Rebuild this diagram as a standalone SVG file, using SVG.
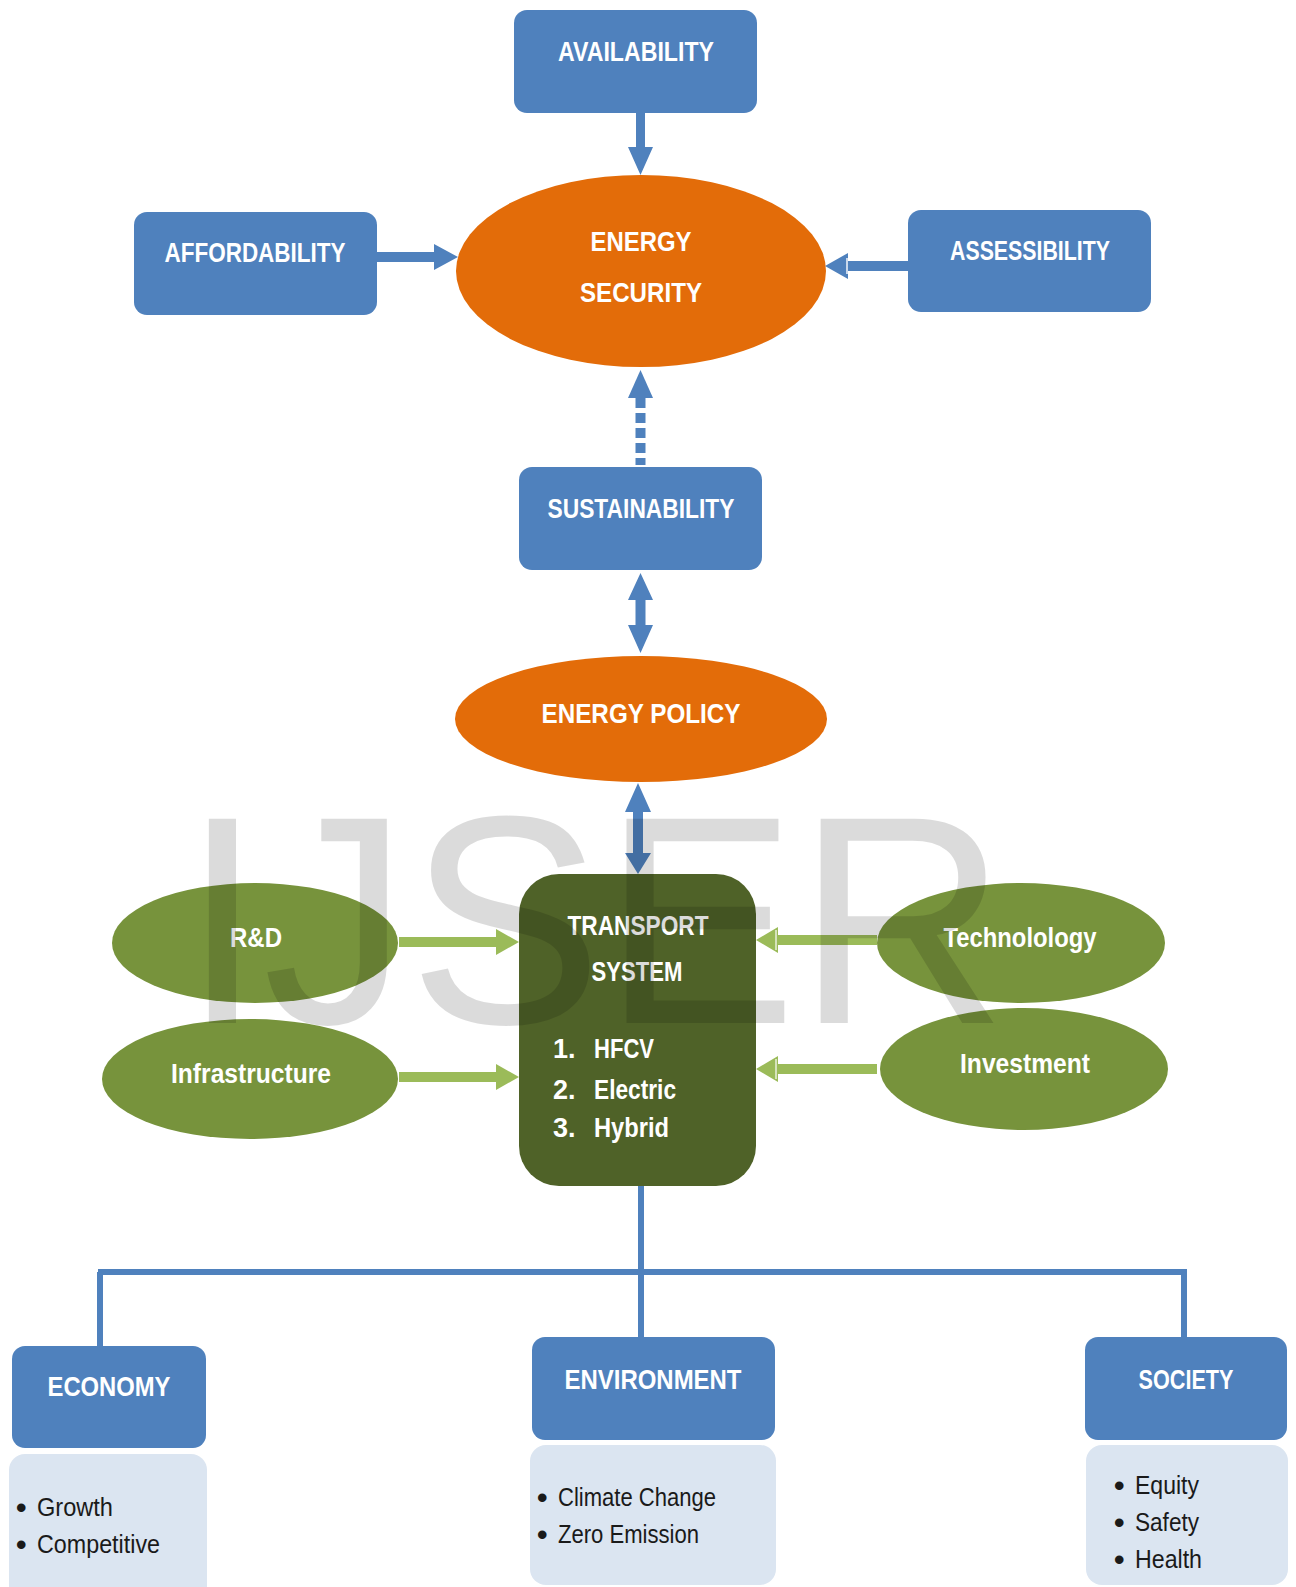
<svg xmlns="http://www.w3.org/2000/svg" width="1296" height="1587" viewBox="0 0 1296 1587">
<style>
.bx{fill:#4f81bd}
.or{fill:#e36c09}
.ge{fill:#77933c}
.lt{fill:#dbe5f1}
.ba{fill:#4f81bd}
.ga{fill:#9bbb59}
.lab{font-family:"Liberation Sans Narrow","Liberation Sans",Arial,sans-serif;font-weight:bold;font-size:28px;fill:#ffffff;text-anchor:middle}
.lst{font-family:"Liberation Sans Narrow","Liberation Sans",Arial,sans-serif;font-weight:bold;font-size:27px;fill:#ffffff}
.bul{font-family:"Liberation Sans Narrow","Liberation Sans",Arial,sans-serif;font-size:25px;fill:#1a1a1a}
.dot{font-family:"Liberation Sans",Arial,sans-serif;font-size:30px;font-weight:bold;fill:#1a1a1a}
.tree{stroke:#4f81bd;stroke-width:6;fill:none}
</style>
<rect width="1296" height="1587" fill="#ffffff"/>
<g id="connectors">
<path class="ba" d="M636,113 H645 V147 H653 L640.5,175 L628,147 H636 Z"/>
<path class="ba" d="M377,252 H434 V244 L458,257 L434,270 V262 H377 Z"/>
<path class="ba" d="M908,261 H848 V253 L825,266 L848,279 V271 H908 Z"/>
<line x1="847" y1="258" x2="847" y2="274" stroke="#c9d8ec" stroke-width="2"/>
<path class="ba" d="M628,398 L640.5,370 L653,398 Z"/>
<line x1="640.5" y1="398" x2="640.5" y2="465" stroke="#4f81bd" stroke-width="10" stroke-dasharray="10 5"/>
<path class="ba" d="M640.5,573 L653,600 H645.5 V625 H653 L640.5,653 L628,625 H635.5 V600 H628 Z"/>
<path class="ba" d="M638,783 L651,812 H643 V853 H651 L638,874 L625,853 H633 V812 H625 Z"/>
<path class="ga" d="M399,937 H496 V929 L519,942 L496,955 V947 H399 Z"/>
<path class="ga" d="M399,1072 H496 V1064 L519,1077 L496,1090 V1082 H399 Z"/>
<path class="ga" d="M877,935 H778 V927 L756,940 L778,953 V945 H877 Z"/>
<path class="ga" d="M877,1064 H778 V1056 L756,1069 L778,1082 V1074 H877 Z"/>
<line x1="776" y1="930" x2="776" y2="950" stroke="#d6e3bc" stroke-width="2"/>
<line x1="776" y1="1059" x2="776" y2="1079" stroke="#d6e3bc" stroke-width="2"/>
<path class="tree" d="M641,1186 V1337 M98,1272 H1187 M100,1272 V1346 M1184,1272 V1337"/>
</g>
<g id="availability"><rect class="bx" x="514" y="10" width="243" height="103" rx="13"/><text class="lab" x="636" y="61" textLength="156" lengthAdjust="spacingAndGlyphs">AVAILABILITY</text></g>
<g id="affordability"><rect class="bx" x="134" y="212" width="243" height="103" rx="13"/><text class="lab" x="255" y="262" textLength="181" lengthAdjust="spacingAndGlyphs">AFFORDABILITY</text></g>
<g id="assessibility"><rect class="bx" x="908" y="210" width="243" height="102" rx="13"/><text class="lab" x="1030" y="260" textLength="160" lengthAdjust="spacingAndGlyphs">ASSESSIBILITY</text></g>
<g id="energy-security"><ellipse class="or" cx="641" cy="271" rx="185" ry="96"/><text class="lab" x="641" y="251" textLength="101" lengthAdjust="spacingAndGlyphs">ENERGY</text><text class="lab" x="641" y="302" textLength="122" lengthAdjust="spacingAndGlyphs">SECURITY</text></g>
<g id="sustainability"><rect class="bx" x="519" y="467" width="243" height="103" rx="13"/><text class="lab" x="641" y="518" textLength="187" lengthAdjust="spacingAndGlyphs">SUSTAINABILITY</text></g>
<g id="energy-policy"><ellipse class="or" cx="641" cy="719" rx="186" ry="63"/><text class="lab" x="641" y="723" textLength="199" lengthAdjust="spacingAndGlyphs">ENERGY POLICY</text></g>
<g id="transport-system"><rect fill="#4f6228" x="519" y="874" width="237" height="312" rx="40"/>
<text class="lab" x="638" y="935" textLength="141" lengthAdjust="spacingAndGlyphs">TRANSPORT</text>
<text class="lab" x="637" y="981" textLength="91" lengthAdjust="spacingAndGlyphs">SYSTEM</text>
<text class="lst" x="553" y="1058">1.</text><text class="lst" x="594" y="1058" textLength="60" lengthAdjust="spacingAndGlyphs">HFCV</text>
<text class="lst" x="553" y="1099">2.</text><text class="lst" x="594" y="1099" textLength="82" lengthAdjust="spacingAndGlyphs">Electric</text>
<text class="lst" x="553" y="1137">3.</text><text class="lst" x="594" y="1137" textLength="75" lengthAdjust="spacingAndGlyphs">Hybrid</text>
</g>
<g id="rd"><ellipse class="ge" cx="255" cy="943" rx="143" ry="60"/><text class="lab" x="256" y="947" textLength="52" lengthAdjust="spacingAndGlyphs">R&amp;D</text></g>
<g id="infrastructure"><ellipse class="ge" cx="250" cy="1079" rx="148" ry="60"/><text class="lab" x="251" y="1083" textLength="160" lengthAdjust="spacingAndGlyphs">Infrastructure</text></g>
<g id="technolology"><ellipse class="ge" cx="1021" cy="943" rx="144" ry="60"/><text class="lab" x="1020" y="947" textLength="153" lengthAdjust="spacingAndGlyphs">Technolology</text></g>
<g id="investment"><ellipse class="ge" cx="1024" cy="1069" rx="144" ry="61"/><text class="lab" x="1025" y="1073" textLength="130" lengthAdjust="spacingAndGlyphs">Investment</text></g>
<g id="economy"><rect class="lt" x="9" y="1454" width="198" height="150" rx="16"/><rect class="bx" x="12" y="1346" width="194" height="102" rx="13"/>
<text class="lab" x="109" y="1396" textLength="123" lengthAdjust="spacingAndGlyphs">ECONOMY</text>
<text class="dot" x="16" y="1518">•</text><text class="bul" x="37" y="1516" textLength="76" lengthAdjust="spacingAndGlyphs">Growth</text>
<text class="dot" x="16" y="1555">•</text><text class="bul" x="37" y="1553" textLength="123" lengthAdjust="spacingAndGlyphs">Competitive</text></g>
<g id="environment"><rect class="lt" x="530" y="1445" width="246" height="140" rx="16"/><rect class="bx" x="532" y="1337" width="243" height="103" rx="13"/>
<text class="lab" x="653" y="1389" textLength="177" lengthAdjust="spacingAndGlyphs">ENVIRONMENT</text>
<text class="dot" x="537" y="1508">•</text><text class="bul" x="558" y="1506" textLength="158" lengthAdjust="spacingAndGlyphs">Climate Change</text>
<text class="dot" x="537" y="1545">•</text><text class="bul" x="558" y="1543" textLength="141" lengthAdjust="spacingAndGlyphs">Zero Emission</text></g>
<g id="society"><rect class="lt" x="1086" y="1445" width="202" height="140" rx="16"/><rect class="bx" x="1085" y="1337" width="202" height="103" rx="13"/>
<text class="lab" x="1186" y="1389" textLength="95" lengthAdjust="spacingAndGlyphs">SOCIETY</text>
<text class="dot" x="1114" y="1496">•</text><text class="bul" x="1135" y="1494" textLength="64" lengthAdjust="spacingAndGlyphs">Equity</text>
<text class="dot" x="1114" y="1533">•</text><text class="bul" x="1135" y="1531" textLength="64" lengthAdjust="spacingAndGlyphs">Safety</text>
<text class="dot" x="1114" y="1570">•</text><text class="bul" x="1135" y="1568" textLength="67" lengthAdjust="spacingAndGlyphs">Health</text></g>
<text x="182" y="1023" font-family="'Liberation Sans',Arial,sans-serif" font-size="297" fill="#000000" fill-opacity="0.14" textLength="825" lengthAdjust="spacingAndGlyphs">IJSER</text>
</svg>
